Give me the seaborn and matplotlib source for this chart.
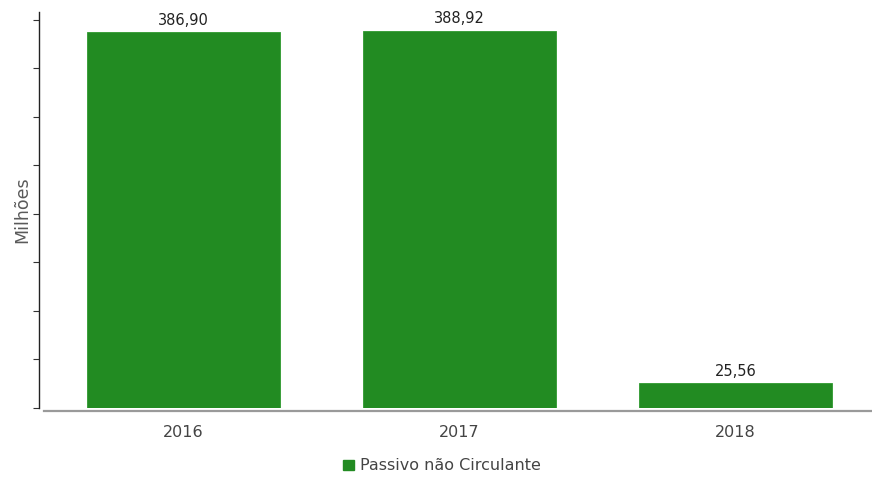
import matplotlib
matplotlib.use("Agg")
import matplotlib.pyplot as plt
import seaborn as sns
import pandas as pd
from matplotlib.patches import Patch

years = ["2016", "2017", "2018"]
values = [386.90, 388.92, 25.56]
value_labels = ["386,90", "388,92", "25,56"]
series_name = "Passivo não Circulante"

df = pd.DataFrame({"ano": years, "valor": values})

sns.set_theme(style="white")
plt.rcParams["font.family"] = ["DejaVu Sans"]

fig = plt.figure(figsize=(8.72, 4.78), dpi=100)
ax = fig.add_axes([39 / 872, (478 - 408) / 478, 1 - 39 / 872, (408 - 12) / 478])

color = "#228B22"
sns.barplot(data=df, x="ano", y="valor", color=color, width=0.70,
            saturation=1, ax=ax, edgecolor="#2e9a2e", linewidth=0.6)

ax.set_xlim(-0.524, 2.495)
ax.set_ylim(0, 408)
ax.set_yticks(range(0, 401, 50))
ax.set_yticklabels([])
ax.tick_params(axis="y", left=True, length=4, width=0.8, color="#333333")
ax.tick_params(axis="x", bottom=False, labelsize=11.5, labelcolor="#444444", pad=4)

for s in ["top", "right"]:
    ax.spines[s].set_visible(False)
ax.spines["left"].set_color("#222222")
ax.spines["left"].set_linewidth(1.0)
ax.spines["bottom"].set_color("#9a9a9a")
ax.spines["bottom"].set_linewidth(1.6)
ax.spines["bottom"].set_position(("outward", 2))
ax.spines["bottom"].set_bounds(-0.505, 2.495)

ax.set_xlabel("")
ax.set_ylabel("Milhões", fontsize=12.5, color="#5a5a5a", labelpad=-2)

for i, (v, lab) in enumerate(zip(values, value_labels)):
    ax.annotate(lab, (i, v), xytext=(0, 3), textcoords="offset points",
                ha="center", va="bottom", fontsize=10.5, color="#222222")

handles = [Patch(facecolor=color, edgecolor=color, label=series_name)]
fig.legend(handles=handles, loc="center", bbox_to_anchor=(442 / 872, 1 - 466 / 478),
           frameon=False, fontsize=11.5, handlelength=0.65, handleheight=0.65,
           handletextpad=0.4, labelcolor="#444444")

fig.savefig("out.png", dpi=100)
